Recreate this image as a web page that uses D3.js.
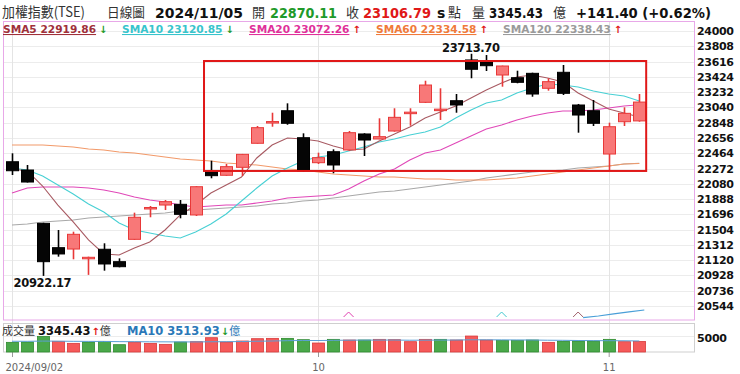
<!DOCTYPE html>
<html><head><meta charset="utf-8">
<script src="https://cdn.jsdelivr.net/npm/d3@7"></script>
<style>
html,body{margin:0;padding:0;background:#fff;}
svg{display:block;}
</style></head>
<body>
<svg id="c" width="740" height="374"></svg>
<script>
// ---------- DATA ----------
const dayIndex = d3.range(42);
const dateTicks = [{i:0,label:"2024/09/02"},{i:20,label:"10"},{i:39,label:"11"}];
const openP  = [22357,22253,21583,21277,21260,21139,21257,21101,21382,21775,21813,21822,21688,22244,22187,22287,22589,22855,22998,22659,22345,22483,22505,22706,22643,22743,22975,23104,23013,23124,23636,23614,23447,23413,23468,23280,23481,23070,22998,22454,22860,22870.11];
const highP  = [22463,22316,21590,21499,21478,21164,21332,21143,21717,21801,21876,21876,22050,22370,22329,22455,22806,22973,23091,22714,22471,22513,22743,22715,22903,23029,23029,23375,23280,23208,23713.70,23698,23565,23501,23476,23406,23573,23083,23133,22848,23041,23208];
const lowP   = [22190,22096,20922.17,21164,21131,20935,20988,21030,21375,21659,21750,21646,21675,22149,22180,22178,22585,22797,22822,22230,22329,22212,22495,22429,22640,22735,22810,23095,22882,22973,23406,23497,23300,23343,23174,23250,23196,22722,22806,22253,22806,22860];
const closeP = [22244,22102,21101,21198,21445,21156,21072,21038,21659,21782,21855,21696,22043,22182,22295,22450,22785,22862,22840,22241,22408,22316,22722,22630,22672,22915,22980,23321,23018,23070,23519,23564,23560,23355,23208,23363,23217,22944,22840,22797,22965.39,23106.79];
const prevCloseBefore = 22268.09;
const sma5   = [22266,22241,22052,21813,21600,21374,21198,21185,21273,21348,21499,21688,21813,21964,22065,22165,22404,22567,22655,22643,22618,22555,22505,22517,22618,22706,22794,22907,22982,23058,23158,23259,23347,23422,23447,23409,23359,23221,23120,23020,22969,22919.86];
const sma10  = [22278,22253,22178,22065,21952,21826,21725,21587,21499,21461,21424,21399,21474,21575,21700,21864,22027,22178,22278,22366,22417,22442,22492,22542,22605,22643,22693,22731,22794,22907,23007,23095,23133,23221,23284,23334,23321,23296,23246,23208,23183,23120.85];
const sma20  = [21964,22027,22040,22040,22040,22027,22002,21964,21914,21876,21851,21813,21788,21801,21813,21813,21838,21864,21901,21914,21926,21939,22014,22115,22203,22266,22379,22467,22505,22592,22680,22768,22819,22882,22932,22969,22995,22995,23007,23032,23058,23072.26];
const sma60  = [22567,22567,22567,22555,22542,22517,22505,22479,22467,22442,22417,22391,22379,22366,22341,22329,22316,22291,22266,22253,22228,22203,22190,22178,22165,22165,22153,22140,22140,22128,22128,22128,22140,22153,22178,22203,22228,22253,22278,22303,22329,22334.58];
const sma120 = [21562,21575,21600,21612,21625,21650,21662,21675,21688,21700,21713,21738,21750,21763,21775,21788,21801,21826,21838,21864,21876,21901,21926,21952,21977,21989,22014,22040,22065,22090,22115,22153,22178,22203,22228,22241,22253,22278,22291,22303,22329,22338.43];
const volume = [3072,3178,4979,3390,2754,3178,3390,2331,3178,2754,2436,3178,3284,4555,3178,3496,4237,4343,4343,3920,2860,4025,3814,3814,4025,3920,3284,4025,4025,3814,5085,3814,3708,3708,3814,3072,3390,3496,3496,4025,3284,3345.43];
const volMA10 = [3420,3400,3480,3450,3400,3380,3350,3300,3280,3250,3230,3210,3200,3260,3280,3330,3430,3500,3600,3680,3650,3720,3760,3790,3800,3810,3750,3770,3800,3810,3890,3880,3860,3830,3820,3750,3720,3660,3620,3600,3580,3513.93];
const priceTicks = [24000,23808,23616,23424,23232,23040,22848,22656,22464,22272,22080,21888,21696,21504,21312,21120,20928,20736,20544];
const volTicks = [5000];
const signalIdx = [37,38,39,40,41];
const signalVal = [20399,20418,20444,20469,20494];
const crossMarks = [{i:22,c:"#e040b0"},{i:32,c:"#40c8d0"},{i:37,c:"#a0606a"}];
const boxIdx = [12.55, 41.45];
const boxPrice = [23623, 22241];
const maxInfo = {i:30, v:23713.70, label:"23713.70"};
const minInfo = {i:2, v:20922.17, label:"20922.17"};

// ---------- SCALES ----------
const svg = d3.select("#c");
const x = d3.scaleLinear().domain([0,41]).range([12,639.3]);
const y = d3.scaleLinear().domain([20544,24000]).range([306,31]);
const yv = d3.scaleLinear().domain([0,5000]).range([352,336.3]);
const NUM = "'DejaVu Sans', Verdana, sans-serif";
const CJK = "'Noto Sans CJK TC', 'Noto Sans CJK SC', sans-serif";

// ---------- FRAMES & GRID ----------
svg.append("rect").attr("width",740).attr("height",374).attr("fill","#fff");
const grid = svg.append("g");
grid.selectAll("line.h").data(priceTicks).join("line")
  .attr("x1",4).attr("x2",694).attr("y1",d=>Math.round(y(d))+0.5).attr("y2",d=>Math.round(y(d))+0.5)
  .attr("stroke","#ececec");
grid.selectAll("line.v").data(dateTicks).join("line")
  .attr("x1",d=>Math.round(x(d.i))+0.5).attr("x2",d=>Math.round(x(d.i))+0.5)
  .attr("y1",22).attr("y2",352).attr("stroke","#e4e4e4");
grid.selectAll("line.vt").data(volTicks).join("line")
  .attr("x1",4).attr("x2",694).attr("y1",d=>Math.round(yv(d))+0.5).attr("y2",d=>Math.round(yv(d))+0.5)
  .attr("stroke","#ececec");

svg.append("rect").attr("x",3.5).attr("y",21.5).attr("width",691).attr("height",298.5)
  .attr("fill","none").attr("stroke","#e8a8e8");
svg.append("rect").attr("x",3.5).attr("y",323.5).attr("width",691).attr("height",28.5)
  .attr("fill","none").attr("stroke","#cfcfcf");

// ---------- AXES ----------
const yAxis = d3.axisRight(y).tickValues(priceTicks).tickSize(0).tickFormat(d3.format("d"));
const ga = svg.append("g").attr("transform","translate(696,0)").call(yAxis);
ga.select(".domain").remove();
ga.selectAll("text").attr("x",1).attr("font-family",NUM).attr("font-weight","bold")
  .attr("font-size","11px").attr("fill","#111").attr("textLength",37);

const vAxis = d3.axisRight(yv).tickValues(volTicks).tickSize(0).tickFormat(d3.format("d"));
const gv = svg.append("g").attr("transform","translate(696,2)").call(vAxis);
gv.select(".domain").remove();
gv.selectAll("text").attr("x",1).attr("font-family",NUM).attr("font-weight","bold")
  .attr("font-size","11px").attr("fill","#111").attr("textLength",30);

const xAxis = d3.axisBottom(x).tickValues(dateTicks.map(d=>d.i)).tickSize(5)
  .tickFormat(i=>dateTicks.find(d=>d.i===i).label);
const gx = svg.append("g").attr("transform","translate(0,352)").call(xAxis);
gx.select(".domain").remove();
gx.selectAll(".tick line").attr("stroke","#999");
gx.selectAll("text").attr("font-family",NUM).attr("font-size","10px").attr("fill","#666").attr("dy","1.05em")
  .attr("text-anchor",i=>i===0?"start":"middle").attr("dx",i=>i===0?-7:0);

// ---------- MOVING AVERAGES ----------
const maSeries = [
  {v:sma120,c:"#a8a8a8"},{v:sma60,c:"#f29a6a"},{v:sma20,c:"#e048b8"},{v:sma10,c:"#48d0d4"},{v:sma5,c:"#a85a62"}];
const line = vals => d3.line().x((d,i)=>x(i)).y(d=>y(d)).curve(d3.curveLinear)(vals);
svg.append("g").selectAll("path").data(maSeries).join("path")
  .attr("d",d=>line(d.v)).attr("fill","none").attr("stroke",d=>d.c).attr("stroke-width",1.1);

// ---------- CANDLES ----------
const bw = 12;
const candles = dayIndex.map(i=>({i,o:openP[i],h:highP[i],l:lowP[i],c:closeP[i]}));
const cg = svg.append("g");
cg.selectAll("line.w").data(candles).join("line")
  .attr("x1",d=>Math.round(x(d.i))+0.5).attr("x2",d=>Math.round(x(d.i))+0.5)
  .attr("y1",d=>y(d.h)).attr("y2",d=>y(d.l))
  .attr("stroke",d=>d.c>=d.o?"#e83838":"#000").attr("stroke-width",1.6);
cg.selectAll("rect").data(candles).join("rect")
  .attr("x",d=>Math.round(x(d.i))-bw/2+0.5).attr("width",bw)
  .attr("y",d=>y(Math.max(d.o,d.c))).attr("height",d=>Math.max(1.5,Math.abs(y(d.o)-y(d.c))))
  .attr("fill",d=>d.c>=d.o?"#f87878":"#050505")
  .attr("stroke",d=>d.c>=d.o?"#e83838":"#000").attr("stroke-width",1);

// ---------- ANNOTATION BOX ----------
svg.append("rect").attr("x",x(boxIdx[0])).attr("y",y(boxPrice[0]))
  .attr("width",x(boxIdx[1])-x(boxIdx[0])).attr("height",y(boxPrice[1])-y(boxPrice[0]))
  .attr("fill","none").attr("stroke","#e01818").attr("stroke-width",2);

// ---------- HIGH / LOW LABELS ----------
svg.append("text").attr("x",x(maxInfo.i)).attr("y",y(maxInfo.v)-2).attr("text-anchor","middle")
  .attr("font-family",NUM).attr("font-weight","bold").attr("font-size","11.5px").attr("fill","#111")
  .attr("textLength",58).text(maxInfo.label);
svg.append("text").attr("x",x(minInfo.i)).attr("y",y(minInfo.v)+11.5).attr("text-anchor","middle")
  .attr("font-family",NUM).attr("font-weight","bold").attr("font-size","11.5px").attr("fill","#111")
  .attr("textLength",58).text(minInfo.label);

// ---------- SIGNAL LINE & CROSS MARKS ----------
svg.append("path").attr("d",d3.line().x((d,k)=>x(signalIdx[k])+5).y(d=>y(d))(signalVal))
  .attr("fill","none").attr("stroke","#4a9fd8").attr("stroke-width",1.2);
svg.append("g").selectAll("path").data(crossMarks).join("path")
  .attr("d",d=>{const cx=x(d.i), by=y(20544)+11; return `M${cx-5},${by}L${cx},${by-5}L${cx+5},${by}`;})
  .attr("fill","none").attr("stroke",d=>d.c).attr("stroke-width",1);

// ---------- VOLUME ----------
const vg = svg.append("g");
vg.selectAll("rect").data(dayIndex).join("rect")
  .attr("x",i=>Math.round(x(i))-bw/2+0.5).attr("width",bw)
  .attr("y",i=>yv(volume[i])).attr("height",i=>352-yv(volume[i]))
  .attr("fill",i=>closeP[i]>=(i?closeP[i-1]:prevCloseBefore)?"#f55a5a":"#4aa84a")
  .attr("stroke",i=>closeP[i]>=(i?closeP[i-1]:prevCloseBefore)?"#d83a3a":"#2f8a2f").attr("stroke-width",0.8);
vg.append("path").attr("d",d3.line().x((d,i)=>x(i)).y(d=>yv(d))(volMA10))
  .attr("fill","none").attr("stroke","#5a9fd6").attr("stroke-width",1);

// ---------- HEADER TEXT ----------
function t(xp,yp,str,opt){
  const e = svg.append("text").attr("x",xp).attr("y",yp).text(str)
    .attr("font-family",opt.f||NUM).attr("font-size",opt.s||"14px")
    .attr("font-weight",opt.w||"normal").attr("fill",opt.c||"#111");
  if(opt.l) e.attr("textLength",opt.l).attr("lengthAdjust","spacingAndGlyphs");
  return e;
}
t(2,17,"加權指數(TSE)",{f:CJK,s:"14px",c:"#333",l:83});
t(107,17,"日線圖",{f:CJK,s:"13px",c:"#333",l:38});
t(155,18,"2024/11/05",{w:"bold",s:"14px",l:88});
t(252,17,"開",{f:CJK,s:"13px",c:"#333"});
t(270,18,"22870.11",{w:"bold",s:"14px",c:"#1f9a2a",l:67});
t(346,17,"收",{f:CJK,s:"13px",c:"#333"});
t(363,18,"23106.79",{w:"bold",s:"14px",c:"#e01818",l:68});
t(437,18,"s",{w:"bold",s:"14px"});
t(448,17,"點",{f:CJK,s:"13px",c:"#333"});
t(472,17,"量",{f:CJK,s:"13px",c:"#333"});
t(489,18,"3345.43",{w:"bold",s:"14px",l:54});
t(553,17,"億",{f:CJK,s:"13px",c:"#333"});
t(576,18,"+141.40 (+0.62%)",{w:"bold",s:"14px",l:135});

// legend row: label + arrow in one text element
const legend = [
  {x:3,txt:"SMA5 22919.86",c:"#a0303a",up:false},
  {x:122,txt:"SMA10 23120.85",c:"#38c4cc",up:false},
  {x:249,txt:"SMA20 23072.26",c:"#e0309a",up:true},
  {x:376,txt:"SMA60 22334.58",c:"#f07a3a",up:true},
  {x:503,txt:"SMA120 22338.43",c:"#9a9a9a",up:true}];
legend.forEach(d=>{
  const e = svg.append("text").attr("x",d.x).attr("y",33)
    .attr("font-family",NUM).attr("font-weight","bold").attr("font-size","10.6px");
  e.append("tspan").attr("fill",d.c).attr("text-decoration","underline").text(d.txt);
  e.append("tspan").attr("dx",3).attr("fill",d.up?"#e01818":"#1f9a2a").attr("font-size","10px").text(d.up?"↑":"↓");
});

// volume legend
const vl1 = svg.append("text").attr("x",2).attr("y",335).attr("font-family",NUM).attr("font-size","11px");
vl1.append("tspan").attr("font-family",CJK).attr("fill","#333").text("成交量");
vl1.append("tspan").attr("dx",3).attr("font-weight","bold").attr("fill","#111").attr("font-size","11.5px").text("3345.43");
vl1.append("tspan").attr("dx",1).attr("font-weight","bold").attr("fill","#e01818").attr("font-size","10px").text("↑");
vl1.append("tspan").attr("font-family",CJK).attr("fill","#333").text("億");
const vl2 = svg.append("text").attr("x",127).attr("y",335).attr("font-family",NUM).attr("font-size","11px");
vl2.append("tspan").attr("font-weight","bold").attr("fill","#2a78b8").attr("font-size","11.5px").text("MA10 3513.93");
vl2.append("tspan").attr("dx",1).attr("font-weight","bold").attr("fill","#1f9a2a").attr("font-size","10px").text("↓");
vl2.append("tspan").attr("font-family",CJK).attr("fill","#2a78b8").text("億");
</script>
</body></html>
